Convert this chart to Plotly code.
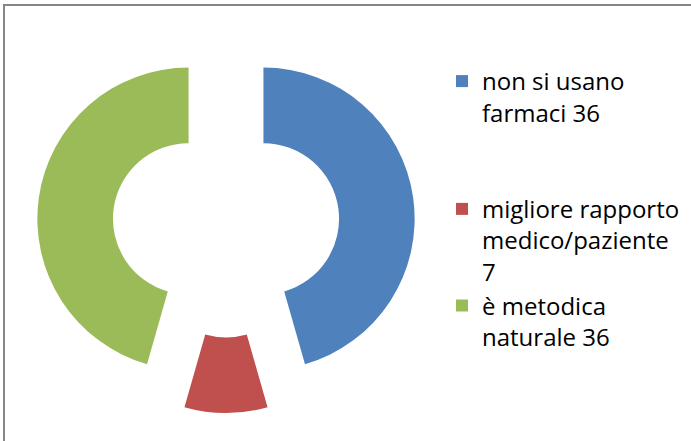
import plotly.graph_objects as go

labels = ["non si usano farmaci", "migliore rapporto medico/paziente", "è metodica naturale"]
legend_text = ["non si usano<br>farmaci 36<br> <br> ", "migliore rapporto<br>medico/paziente<br>7", "è metodica<br>naturale 36"]
values = [36, 7, 36]
colors = ["#4F81BD", "#C0504D", "#9BBB59"]

fig = go.Figure()
fig.add_trace(go.Pie(
    labels=legend_text,
    values=values,
    hole=0.5,
    pull=[0.25, 0.25, 0.25],
    sort=False,
    direction="clockwise",
    rotation=0,
    marker=dict(colors=colors, line=dict(width=0)),
    textinfo="none",
    hoverinfo="label+value",
    domain=dict(x=[37/691, 415/691], y=[1-413/441, 1-35/441]),
))

fig.add_shape(type="rect", xref="paper", yref="paper",
              x0=4/691, x1=1.05, y0=-0.05, y1=1-5/441,
              line=dict(color="#868686", width=2), fillcolor="rgba(0,0,0,0)")

fig.update_layout(
    width=691, height=441,
    margin=dict(l=0, r=0, t=0, b=0),
    paper_bgcolor="white",
    plot_bgcolor="white",
    font=dict(family="Open Sans, Liberation Sans, sans-serif", color="#000000"),
    legend=dict(x=442/691, y=1-59/441, xanchor="left", yanchor="top",
                valign="top", font=dict(size=24, family="Open Sans, sans-serif"),
                bgcolor="rgba(0,0,0,0)"),
    showlegend=True,
)

fig.write_html("out.html", config={"displayModeBar": False},
               post_script="document.body.style.margin='0';")
